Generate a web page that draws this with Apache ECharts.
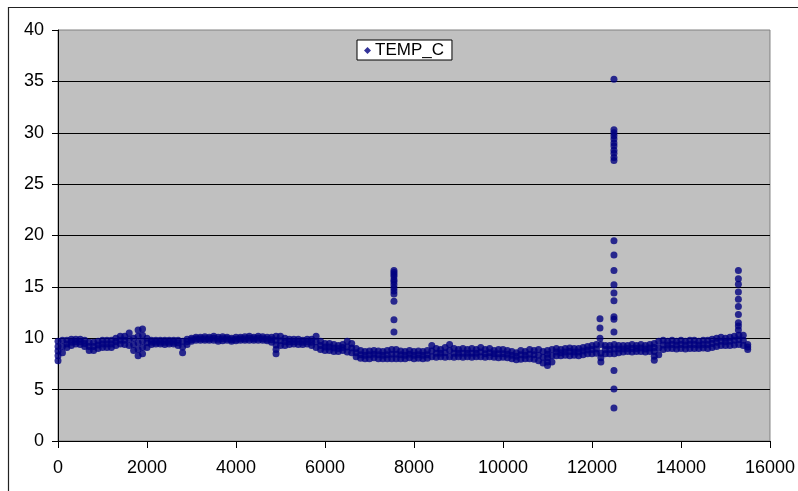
<!DOCTYPE html>
<html>
<head>
<meta charset="utf-8">
<script src="https://cdn.jsdelivr.net/npm/echarts@6/dist/echarts.min.js"></script>
<style>
html,body{margin:0;padding:0;background:#fff;}
#chart{width:798px;height:491px;}
</style>
</head>
<body>
<div id="chart"></div>
<script>
// ---- data ----
const seriesName = 'TEMP_C';
const xTicks = [0, 2000, 4000, 6000, 8000, 10000, 12000, 14000, 16000];
const yTicks = [0, 5, 10, 15, 20, 25, 30, 35, 40];

// band sampled every 100 x-units starting at 0 (upper, middle, lower readings)
const bandStart = 0;
const bandStep = 100;
const bandHigh = [9.7,9.8,9.8,9.9,9.9,9.9,9.8,9.6,9.6,9.7,
 9.8,9.8,9.8,10.0,10.2,10.2,10.5,10.0,10.8,10.9,
 10.0,9.8,9.8,9.8,9.8,9.8,9.8,9.8,9.7,9.9,
 10.0,10.1,10.1,10.15,10.1,10.2,10.1,10.15,10.1,10.0,
 10.1,10.1,10.15,10.2,10.1,10.2,10.15,10.1,10.1,10.2,
 10.2,10.0,9.9,9.9,9.9,9.8,9.9,9.9,10.2,9.7,
 9.5,9.5,9.4,9.3,9.4,9.7,9.5,9.0,8.8,8.7,
 8.75,8.8,8.75,8.7,8.8,8.9,8.9,8.75,8.7,8.8,
 8.7,8.75,8.7,8.8,9.3,9.0,8.9,9.1,9.4,9.0,
 8.9,9.0,8.9,9.0,8.9,9.1,8.9,9.0,8.8,8.9,
 8.9,8.8,8.7,8.6,8.8,8.7,8.9,8.8,8.9,8.7,
 8.8,8.9,9.0,8.9,9.0,9.05,9.0,9.0,9.1,9.2,
 9.3,9.4,9.4,9.3,9.3,9.4,9.3,9.3,9.3,9.4,
 9.3,9.4,9.3,9.4,9.5,9.7,9.8,9.7,9.8,9.7,
 9.8,9.7,9.8,9.8,9.7,9.8,9.8,9.9,10.0,10.1,
 10.0,10.1,10.2,10.3,10.3,9.4];
const bandMid = [8.75,9.2,9.45,9.6,9.65,9.65,9.5,9.2,9.2,9.35,
 9.45,9.45,9.45,9.65,9.8,9.8,9.9,9.4,9.55,9.7,
 9.55,9.6,9.6,9.6,9.6,9.6,9.6,9.55,9.15,9.65,
 9.85,9.95,9.95,9.95,9.95,10.0,9.9,9.95,9.95,9.85,
 9.9,9.95,9.95,10.0,9.95,10.0,9.95,9.9,9.85,9.35,
 9.75,9.65,9.65,9.65,9.65,9.6,9.65,9.6,9.65,9.3,
 9.15,9.15,9.05,9.0,9.1,9.15,9.05,8.6,8.4,8.35,
 8.4,8.45,8.4,8.35,8.4,8.45,8.45,8.4,8.35,8.45,
 8.35,8.4,8.35,8.4,8.75,8.55,8.55,8.6,8.8,8.55,
 8.55,8.55,8.55,8.55,8.55,8.65,8.5,8.6,8.5,8.5,
 8.5,8.45,8.35,8.25,8.4,8.35,8.45,8.4,8.35,8.15,
 8.1,8.3,8.65,8.6,8.65,8.7,8.65,8.65,8.75,8.85,
 8.9,8.95,8.55,8.9,8.9,8.95,8.95,8.95,9.0,9.0,
 9.0,9.05,8.95,9.05,8.7,9.05,9.35,9.35,9.4,9.35,
 9.4,9.35,9.4,9.4,9.35,9.4,9.4,9.5,9.6,9.7,
 9.65,9.7,9.8,9.85,9.8,9.15];
const bandLow = [7.8,8.6,9.1,9.3,9.45,9.4,9.2,8.8,8.8,9.0,
 9.1,9.1,9.1,9.3,9.45,9.4,9.3,8.8,8.3,8.5,
 9.1,9.4,9.45,9.45,9.4,9.45,9.45,9.3,8.6,9.4,
 9.7,9.8,9.8,9.8,9.8,9.8,9.7,9.75,9.8,9.7,
 9.75,9.8,9.8,9.8,9.8,9.8,9.8,9.75,9.6,8.5,
 9.3,9.3,9.4,9.45,9.4,9.4,9.45,9.3,9.1,8.9,
 8.8,8.8,8.7,8.7,8.8,8.65,8.6,8.2,8.05,8.0,
 8.0,8.1,8.0,8.0,8.0,8.0,8.0,8.0,8.0,8.1,
 8.0,8.05,8.0,8.05,8.2,8.15,8.2,8.15,8.2,8.15,
 8.2,8.15,8.2,8.15,8.2,8.2,8.15,8.2,8.15,8.1,
 8.15,8.1,8.0,7.9,7.95,8.0,8.0,7.95,7.8,7.6,
 7.35,7.7,8.3,8.3,8.35,8.3,8.35,8.3,8.4,8.5,
 8.5,8.55,7.7,8.5,8.5,8.5,8.6,8.65,8.7,8.65,
 8.7,8.7,8.65,8.7,7.85,8.4,8.9,9.0,9.0,8.95,
 9.0,8.95,9.0,9.0,9.0,9.05,9.0,9.1,9.2,9.3,
 9.3,9.3,9.35,9.4,9.3,8.9];

// extra readings inside the wider swings of the band
const extraX = [0, 0, 1800, 1800, 1900, 1900, 4900, 4900, 11000, 11000, 12200, 13400, 13400];
const extraY = [8.3, 9.2, 8.9, 10.2, 9.1, 10.3, 8.9, 9.8, 7.7, 8.45, 8.1, 8.25, 9.1];

// vertical spikes
const spike1X = 7550;
const spike1Y = [16.6,16.4,16.2,16.0,15.7,15.5,15.2,14.9,14.6,14.3,13.6,11.8,10.6];
const spike2X = 12180;
const spike2Y = [11.9,11.0,10.0];
const spike3X = 12494;
const spike3Y = [35.2,30.3,30.0,29.7,29.4,29.0,28.7,28.3,28.0,27.6,27.3,19.5,18.1,16.6,15.2,14.4,13.65,12.1,11.85,10.6,6.85,5.05,3.2];
const spike4X = 15290;
const spike4Y = [16.6,15.8,15.25,14.5,13.8,13.1,12.3,11.5,11.2,10.8];

// ---- build points ----
const points = [];
for (let i = 0; i < bandHigh.length; i++) {
  const x = bandStart + i * bandStep;
  points.push([x, bandHigh[i]], [x, bandMid[i]], [x, bandLow[i]]);
}
extraX.forEach((x, i) => points.push([x, extraY[i]]));
[[spike1X, spike1Y], [spike2X, spike2Y], [spike3X, spike3Y], [spike4X, spike4Y]].forEach(([sx, ys]) => {
  ys.forEach(y => points.push([sx, y]));
});

const font = "'Liberation Sans', Arial, sans-serif";
const chart = echarts.init(document.getElementById('chart'), null, {renderer: 'canvas'});
chart.setOption({
  animation: false,
  backgroundColor: '#ffffff',
  textStyle: {fontFamily: font},
  graphic: [{
    type: 'rect', z: 100, silent: true,
    shape: {x: 8.5, y: 7.5, width: 800, height: 500},
    style: {fill: 'none', stroke: '#222', lineWidth: 1.2}
  }],
  grid: {
    left: 58, right: 28, top: 30, bottom: 50,
    show: true, backgroundColor: '#C0C0C0', borderColor: '#808080', borderWidth: 1
  },
  legend: {
    data: [{name: seriesName, icon: 'diamond'}],
    left: 357, top: 40,
    padding: [2, 8, 1, 7],
    itemWidth: 7, itemHeight: 7, itemGap: 5,
    backgroundColor: '#ffffff', borderColor: '#000', borderWidth: 1,
    textStyle: {fontSize: 17, color: '#000', fontFamily: font, padding: [0, 0, 0, -1]}
  },
  xAxis: {
    type: 'value', min: xTicks[0], max: xTicks[xTicks.length - 1], interval: xTicks[1] - xTicks[0],
    axisLine: {show: true, lineStyle: {color: '#000', width: 1}},
    axisTick: {show: true, inside: false, length: 7, lineStyle: {color: '#000'}},
    axisLabel: {fontSize: 18, color: '#000', margin: 18, fontFamily: font, formatter: v => String(v)},
    splitLine: {show: false}
  },
  yAxis: {
    type: 'value', min: yTicks[0], max: yTicks[yTicks.length - 1], interval: yTicks[1] - yTicks[0],
    axisLine: {show: true, lineStyle: {color: '#000', width: 1}},
    axisTick: {show: true, inside: false, length: 6, lineStyle: {color: '#000'}},
    axisLabel: {fontSize: 18, color: '#000', margin: 14, fontFamily: font, formatter: v => String(v)},
    splitLine: {show: true, showMaxLine: false, lineStyle: {color: '#000', width: 1}}
  },
  series: [{
    name: seriesName, type: 'scatter', symbol: 'circle', symbolSize: 7,
    itemStyle: {color: '#000080'},
    data: points, large: false
  }]
});
</script>
</body>
</html>
